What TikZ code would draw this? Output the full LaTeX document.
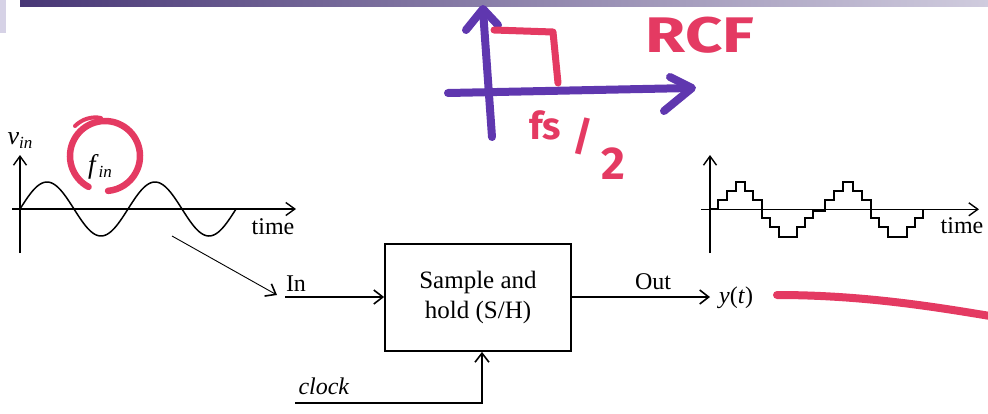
\documentclass[tikz,border=0pt]{standalone}
\usepackage{fontspec}
\setmainfont{Liberation Serif}
\newfontfamily\markerfont{Fira Sans}
\usetikzlibrary{arrows.meta}
\definecolor{mpurple}{RGB}{95,55,175}
\definecolor{mpink}{RGB}{228,58,98}
\definecolor{bardark}{RGB}{72,55,118}
\definecolor{barlight}{RGB}{208,204,222}
\definecolor{boxlav}{RGB}{214,210,230}
\newcommand{\mysub}[1]{{\fontsize{17}{17}\selectfont\raisebox{-4pt}{\textit{#1}}}}
\tikzset{
  axis/.style={line width=1.4pt,-{Straight Barb[length=9pt,width=13pt,line width=1.4pt]}},
  conn/.style={line width=1.2pt,-{Straight Barb[length=9pt,width=14pt,line width=1.6pt]}},
  lbl/.style={font=\fontsize{24}{28}\selectfont,inner sep=0pt},
  shbox/.style={draw,line width=1.8pt,minimum width=186pt,minimum height=107pt,align=center,
    font=\fontsize{25}{30}\selectfont,inner sep=0pt},
  marker/.style={line width=7pt,line cap=round,line join=round},
  handtext/.style={text=mpink,font=\markerfont\bfseries,inner sep=0pt},
}
\begin{document}
\begin{tikzpicture}[x=1pt,y=-1pt]
\useasboundingbox (0,0) rectangle (988,413);
% top bar
\shade[left color=bardark,right color=barlight] (20,0) rectangle (988,6);
\fill[boxlav] (0,0) rectangle (6,33);

% left sine plot
\coordinate (lvb) at (20,253);
\coordinate (lvt) at (20,155);
\coordinate (lhl) at (12,209);
\coordinate (lhr) at (296,209);
\draw[axis] (lvb) -- (lvt);
\draw[axis] (lhl) -- (lhr);
\draw[line width=1.5pt] plot[domain=20:236,samples=120,smooth] (\x,{209-27*sin((\x-20)/108*360)});
\node[lbl,font=\fontsize{26}{28}\selectfont] (vin) at (20,141) {\textit{v}\mysub{in}};
\node[lbl] (tl) at (273,227) {time};
\node[lbl,font=\fontsize{27}{30}\selectfont] (fin) at (100,167) {\textit{f}\mysub{in}};
\draw[marker,mpink,line width=6.5pt] (105,156) ++(118:35 and 35) arc[start angle=118,end angle=445,x radius=35,y radius=35];
\draw[marker,mpink,line width=4pt] (75,126) .. controls (82,119) and (92,116) .. (101,118);

% diagonal arrow
\coordinate (d1) at (172,236);
\coordinate (d2) at (277,295);
\draw[conn,line width=0.9pt] (d1) -- (d2);

% S/H block
\node[shbox] (sh) at (478,297.5) {Sample and\\hold (S/H)};
\node[lbl] (inl) at (296,284) {In};
\coordinate (ins) at (285,297);
\draw[conn] (ins) -- (sh.west |- ins);
\node[lbl] (outl) at (653,282) {Out};
\node[lbl,anchor=west] (yt) at (719,298) {\textit{y}(\textit{t})};
\draw[conn] (sh.east |- ins) -- ([xshift=-9pt]yt.west |- ins);
\node[lbl] (clk) at (324,386) {\textit{clock}};
\coordinate (cks) at (295,403);
\draw[conn] (cks) -| ([xshift=4pt]sh.south);

% right staircase plot
\coordinate (rvb) at (710,253);
\coordinate (rvt) at (710,155);
\coordinate (rhl) at (701,209.3);
\coordinate (rhr) at (979,209.3);
\draw[axis] (rvb) -- (rvt);
\draw[axis] (rhl) -- (rhr);
\draw[line width=1.9pt] (710,209.3) -- (718.3,209.3) -- (718.3,200) -- (726.7,200) -- (726.7,190.7) -- (736,190.7) -- (736,181.7) -- (745,181.7) -- (745,190.7) -- (752.7,190.7) -- (752.7,200) -- (761.7,200) -- (761.7,218.3) -- (770,218.3) -- (770,227.3) -- (779.3,227.3) -- (779.3,236.7) -- (796.7,236.7) -- (796.7,227.3) -- (805,227.3) -- (805,218.3) -- (813.3,218.3) -- (813.3,210.8) -- (825,210.8) -- (825,200) -- (834,200) -- (834,190.7) -- (843.3,190.7) -- (843.3,181.7) -- (852.7,181.7) -- (852.7,190.7) -- (861.7,190.7) -- (861.7,200) -- (870.7,200) -- (870.7,218.3) -- (879.3,218.3) -- (879.3,227.3) -- (888.3,227.3) -- (888.3,236.7) -- (906.7,236.7) -- (906.7,227.3) -- (915,227.3) -- (915,218.3) -- (923.3,218.3) -- (923.3,209.3);
\node[lbl] (tr) at (962,226) {time};

% hand-drawn RCF sketch
\draw[marker,mpurple,line width=8pt] (492,137) -- (483,10);
\draw[marker,mpurple,line width=8pt] (466,30) -- (483,9) -- (498,25);
\draw[marker,mpurple,line width=8pt] (448,93) -- (691,88);
\draw[marker,mpurple,line width=8pt] (670,77) -- (692,88) -- (664,111);
\draw[marker,mpink] (494,30) -- (553,32) -- (558,83);
\node[handtext,font=\markerfont\bfseries\fontsize{50}{50}\selectfont,xscale=1.3] (rcf) at (700,35) {RCF};
\node[handtext,font=\markerfont\bfseries\fontsize{38}{38}\selectfont] (fs) at (545,125) {fs};
\node[handtext,font=\markerfont\bfseries\fontsize{40}{40}\selectfont] (sl) at (583,136) {/};
\node[handtext,font=\markerfont\bfseries\fontsize{46}{46}\selectfont] (two) at (613,164) {2};
\draw[marker,mpink,line width=8pt] (777,295) .. controls (860,295) and (930,306) .. (990,316);
\end{tikzpicture}
\end{document}
